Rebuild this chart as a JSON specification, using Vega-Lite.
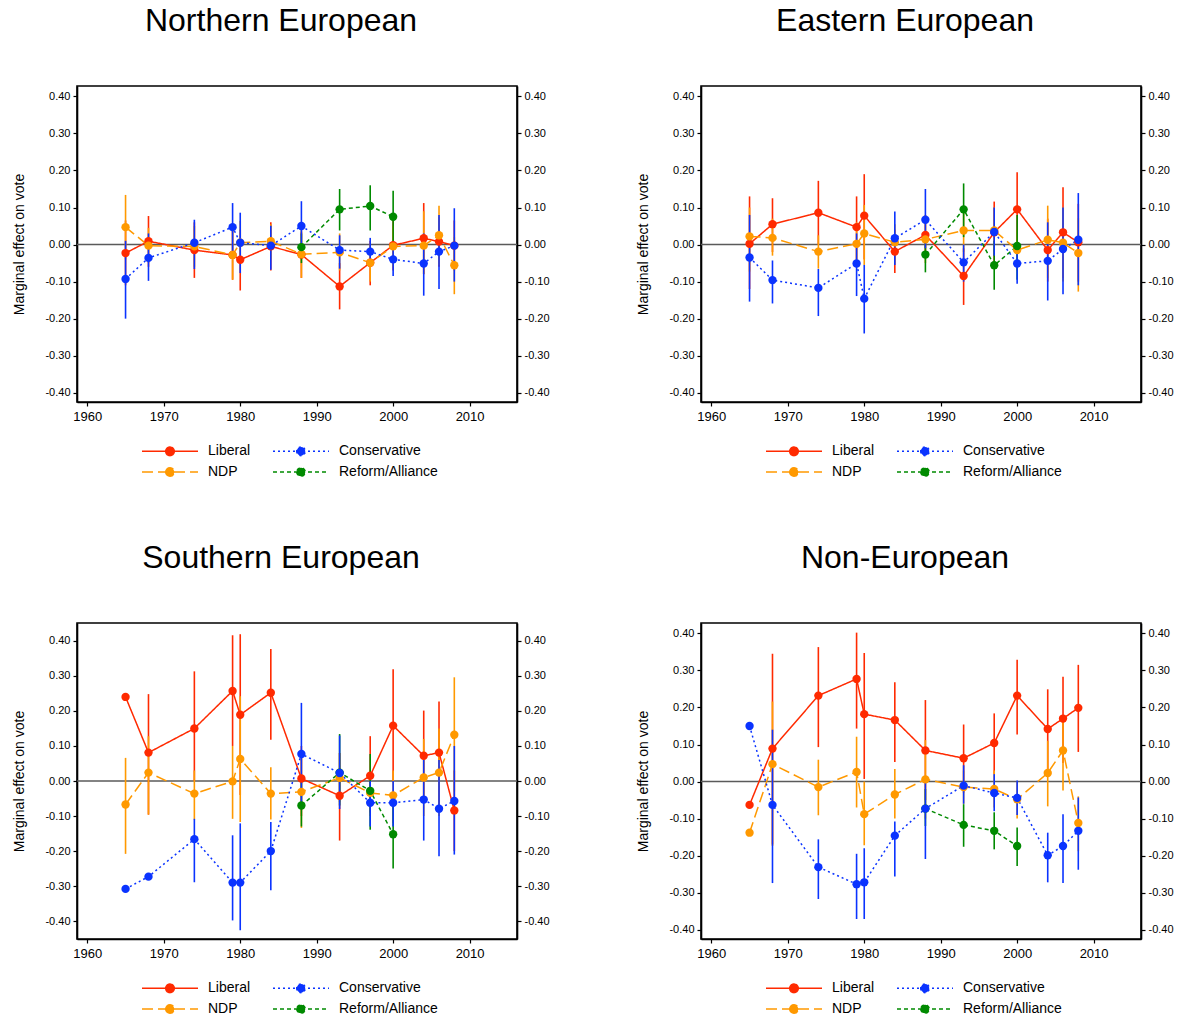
{
  "$schema": "https://vega.github.io/schema/vega-lite/v6.json",
  "padding": {"left": 12, "top": 4, "right": 2, "bottom": 2},
  "background": "white",
  "config": {
    "font": "Liberation Sans",
    "view": {"stroke": "#000000", "strokeWidth": 1.6},
    "axis": {"grid": false, "domainColor": "#000000", "tickColor": "#000000", "labelColor": "#000000", "titleColor": "#000000", "labelFont": "Liberation Sans", "titleFont": "Liberation Sans", "titleFontWeight": "normal", "tickSize": 4, "tickWidth": 1.2, "domainWidth": 1.6},
    "legend": {"labelFont": "Liberation Sans", "labelColor": "#000000", "title": null, "orient": "none", "direction": "horizontal", "legendX": 82, "legendY": 354, "columns": 2, "symbolType": "M-2.8,0H2.8M-0.43,0A0.43,0.43,0,1,0,0.43,0A0.43,0.43,0,1,0,-0.43,0Z", "symbolSize": 400, "symbolStrokeWidth": 1.5, "labelFontSize": 14, "columnPadding": 19, "rowPadding": 2, "labelOffset": 27},
    "title": {"fontSize": 32, "fontWeight": "normal", "font": "Liberation Sans", "anchor": "middle", "frame": "bounds", "offset": 48, "color": "#000000"}
  },
  "datasets": {
    "d": [
      {"region":"N","party":"Liberal","year":1965,"effect":-0.023,"lo":-0.11,"hi":0.065},
      {"region":"N","party":"Liberal","year":1968,"effect":0.009,"lo":-0.06,"hi":0.077},
      {"region":"N","party":"Liberal","year":1974,"effect":-0.015,"lo":-0.09,"hi":0.06},
      {"region":"N","party":"Liberal","year":1979,"effect":-0.028,"lo":-0.095,"hi":0.04},
      {"region":"N","party":"Liberal","year":1980,"effect":-0.041,"lo":-0.124,"hi":0.04},
      {"region":"N","party":"Liberal","year":1984,"effect":-0.005,"lo":-0.07,"hi":0.06},
      {"region":"N","party":"Liberal","year":1988,"effect":-0.027,"lo":-0.09,"hi":0.035},
      {"region":"N","party":"Liberal","year":1993,"effect":-0.113,"lo":-0.175,"hi":-0.05},
      {"region":"N","party":"Liberal","year":1997,"effect":-0.049,"lo":-0.11,"hi":0.01},
      {"region":"N","party":"Liberal","year":2000,"effect":-0.002,"lo":-0.07,"hi":0.065},
      {"region":"N","party":"Liberal","year":2004,"effect":0.017,"lo":-0.08,"hi":0.112},
      {"region":"N","party":"Liberal","year":2006,"effect":0.008,"lo":-0.06,"hi":0.075},
      {"region":"N","party":"Liberal","year":2008,"effect":-0.003,"lo":-0.07,"hi":0.065},
      {"region":"N","party":"NDP","year":1965,"effect":0.047,"lo":-0.04,"hi":0.134},
      {"region":"N","party":"NDP","year":1968,"effect":-0.003,"lo":-0.05,"hi":0.045},
      {"region":"N","party":"NDP","year":1974,"effect":-0.005,"lo":-0.06,"hi":0.05},
      {"region":"N","party":"NDP","year":1979,"effect":-0.028,"lo":-0.095,"hi":0.04},
      {"region":"N","party":"NDP","year":1980,"effect":0.005,"lo":-0.055,"hi":0.064},
      {"region":"N","party":"NDP","year":1984,"effect":0.009,"lo":-0.04,"hi":0.055},
      {"region":"N","party":"NDP","year":1988,"effect":-0.026,"lo":-0.09,"hi":0.04},
      {"region":"N","party":"NDP","year":1993,"effect":-0.021,"lo":-0.07,"hi":0.03},
      {"region":"N","party":"NDP","year":1997,"effect":-0.049,"lo":-0.1,"hi":0.0},
      {"region":"N","party":"NDP","year":2000,"effect":-0.005,"lo":-0.06,"hi":0.05},
      {"region":"N","party":"NDP","year":2004,"effect":-0.003,"lo":-0.08,"hi":0.09},
      {"region":"N","party":"NDP","year":2006,"effect":0.025,"lo":-0.055,"hi":0.105},
      {"region":"N","party":"NDP","year":2008,"effect":-0.056,"lo":-0.134,"hi":0.02},
      {"region":"N","party":"Reform/Alliance","year":1988,"effect":-0.007,"lo":-0.05,"hi":0.03},
      {"region":"N","party":"Reform/Alliance","year":1993,"effect":0.095,"lo":0.038,"hi":0.15},
      {"region":"N","party":"Reform/Alliance","year":1997,"effect":0.104,"lo":0.038,"hi":0.16},
      {"region":"N","party":"Reform/Alliance","year":2000,"effect":0.075,"lo":0.0,"hi":0.145},
      {"region":"N","party":"Conservative","year":1965,"effect":-0.093,"lo":-0.2,"hi":0.01},
      {"region":"N","party":"Conservative","year":1968,"effect":-0.036,"lo":-0.098,"hi":0.03},
      {"region":"N","party":"Conservative","year":1974,"effect":0.005,"lo":-0.066,"hi":0.067},
      {"region":"N","party":"Conservative","year":1979,"effect":0.047,"lo":-0.02,"hi":0.112},
      {"region":"N","party":"Conservative","year":1980,"effect":0.005,"lo":-0.077,"hi":0.086},
      {"region":"N","party":"Conservative","year":1984,"effect":-0.003,"lo":-0.068,"hi":0.051},
      {"region":"N","party":"Conservative","year":1988,"effect":0.05,"lo":-0.02,"hi":0.117},
      {"region":"N","party":"Conservative","year":1993,"effect":-0.015,"lo":-0.065,"hi":0.025},
      {"region":"N","party":"Conservative","year":1997,"effect":-0.019,"lo":-0.06,"hi":0.018},
      {"region":"N","party":"Conservative","year":2000,"effect":-0.04,"lo":-0.085,"hi":0.0},
      {"region":"N","party":"Conservative","year":2004,"effect":-0.051,"lo":-0.138,"hi":0.03},
      {"region":"N","party":"Conservative","year":2006,"effect":-0.019,"lo":-0.12,"hi":0.08},
      {"region":"N","party":"Conservative","year":2008,"effect":-0.003,"lo":-0.1,"hi":0.098},

      {"region":"E","party":"Liberal","year":1965,"effect":0.002,"lo":-0.12,"hi":0.13},
      {"region":"E","party":"Liberal","year":1968,"effect":0.055,"lo":-0.02,"hi":0.125},
      {"region":"E","party":"Liberal","year":1974,"effect":0.086,"lo":0.0,"hi":0.172},
      {"region":"E","party":"Liberal","year":1979,"effect":0.047,"lo":-0.04,"hi":0.13},
      {"region":"E","party":"Liberal","year":1980,"effect":0.078,"lo":-0.04,"hi":0.19},
      {"region":"E","party":"Liberal","year":1984,"effect":-0.019,"lo":-0.077,"hi":0.04},
      {"region":"E","party":"Liberal","year":1988,"effect":0.026,"lo":-0.03,"hi":0.08},
      {"region":"E","party":"Liberal","year":1993,"effect":-0.085,"lo":-0.163,"hi":-0.01},
      {"region":"E","party":"Liberal","year":1997,"effect":0.033,"lo":-0.05,"hi":0.116},
      {"region":"E","party":"Liberal","year":2000,"effect":0.095,"lo":0.0,"hi":0.195},
      {"region":"E","party":"Liberal","year":2004,"effect":-0.015,"lo":-0.1,"hi":0.07},
      {"region":"E","party":"Liberal","year":2006,"effect":0.033,"lo":-0.09,"hi":0.155},
      {"region":"E","party":"Liberal","year":2008,"effect":0.006,"lo":-0.1,"hi":0.11},
      {"region":"E","party":"NDP","year":1965,"effect":0.022,"lo":-0.073,"hi":0.1},
      {"region":"E","party":"NDP","year":1968,"effect":0.018,"lo":-0.03,"hi":0.07},
      {"region":"E","party":"NDP","year":1974,"effect":-0.019,"lo":-0.065,"hi":0.025},
      {"region":"E","party":"NDP","year":1979,"effect":0.002,"lo":-0.06,"hi":0.06},
      {"region":"E","party":"NDP","year":1980,"effect":0.03,"lo":-0.055,"hi":0.107},
      {"region":"E","party":"NDP","year":1984,"effect":0.006,"lo":-0.05,"hi":0.055},
      {"region":"E","party":"NDP","year":1988,"effect":0.014,"lo":-0.05,"hi":0.08},
      {"region":"E","party":"NDP","year":1993,"effect":0.038,"lo":-0.02,"hi":0.1},
      {"region":"E","party":"NDP","year":1997,"effect":0.038,"lo":-0.02,"hi":0.1},
      {"region":"E","party":"NDP","year":2000,"effect":-0.015,"lo":-0.07,"hi":0.04},
      {"region":"E","party":"NDP","year":2004,"effect":0.013,"lo":-0.09,"hi":0.105},
      {"region":"E","party":"NDP","year":2006,"effect":0.005,"lo":-0.1,"hi":0.1},
      {"region":"E","party":"NDP","year":2008,"effect":-0.023,"lo":-0.127,"hi":0.071},
      {"region":"E","party":"Reform/Alliance","year":1988,"effect":-0.027,"lo":-0.075,"hi":0.02},
      {"region":"E","party":"Reform/Alliance","year":1993,"effect":0.095,"lo":0.02,"hi":0.165},
      {"region":"E","party":"Reform/Alliance","year":1997,"effect":-0.056,"lo":-0.122,"hi":0.01},
      {"region":"E","party":"Reform/Alliance","year":2000,"effect":-0.004,"lo":-0.095,"hi":0.08},
      {"region":"E","party":"Conservative","year":1965,"effect":-0.035,"lo":-0.154,"hi":0.08},
      {"region":"E","party":"Conservative","year":1968,"effect":-0.096,"lo":-0.159,"hi":-0.043},
      {"region":"E","party":"Conservative","year":1974,"effect":-0.117,"lo":-0.193,"hi":-0.066},
      {"region":"E","party":"Conservative","year":1979,"effect":-0.051,"lo":-0.139,"hi":0.03},
      {"region":"E","party":"Conservative","year":1980,"effect":-0.146,"lo":-0.24,"hi":-0.055},
      {"region":"E","party":"Conservative","year":1984,"effect":0.017,"lo":-0.055,"hi":0.089},
      {"region":"E","party":"Conservative","year":1988,"effect":0.067,"lo":-0.01,"hi":0.15},
      {"region":"E","party":"Conservative","year":1993,"effect":-0.048,"lo":-0.1,"hi":0.0},
      {"region":"E","party":"Conservative","year":1997,"effect":0.034,"lo":-0.03,"hi":0.1},
      {"region":"E","party":"Conservative","year":2000,"effect":-0.051,"lo":-0.106,"hi":0.0},
      {"region":"E","party":"Conservative","year":2004,"effect":-0.044,"lo":-0.151,"hi":0.06},
      {"region":"E","party":"Conservative","year":2006,"effect":-0.012,"lo":-0.134,"hi":0.1},
      {"region":"E","party":"Conservative","year":2008,"effect":0.013,"lo":-0.11,"hi":0.139},

      {"region":"S","party":"Liberal","year":1965,"effect":0.24,"lo":null,"hi":null},
      {"region":"S","party":"Liberal","year":1968,"effect":0.081,"lo":-0.096,"hi":0.248},
      {"region":"S","party":"Liberal","year":1974,"effect":0.15,"lo":0.0,"hi":0.313},
      {"region":"S","party":"Liberal","year":1979,"effect":0.257,"lo":0.1,"hi":0.416},
      {"region":"S","party":"Liberal","year":1980,"effect":0.189,"lo":-0.04,"hi":0.419},
      {"region":"S","party":"Liberal","year":1984,"effect":0.252,"lo":0.118,"hi":0.377},
      {"region":"S","party":"Liberal","year":1988,"effect":0.007,"lo":-0.1,"hi":0.1},
      {"region":"S","party":"Liberal","year":1993,"effect":-0.042,"lo":-0.17,"hi":0.08},
      {"region":"S","party":"Liberal","year":1997,"effect":0.015,"lo":-0.09,"hi":0.128},
      {"region":"S","party":"Liberal","year":2000,"effect":0.158,"lo":0.0,"hi":0.319},
      {"region":"S","party":"Liberal","year":2004,"effect":0.072,"lo":-0.06,"hi":0.201},
      {"region":"S","party":"Liberal","year":2006,"effect":0.081,"lo":-0.07,"hi":0.227},
      {"region":"S","party":"Liberal","year":2008,"effect":-0.084,"lo":-0.2,"hi":0.03},
      {"region":"S","party":"NDP","year":1965,"effect":-0.067,"lo":-0.208,"hi":0.066},
      {"region":"S","party":"NDP","year":1968,"effect":0.024,"lo":-0.096,"hi":0.128},
      {"region":"S","party":"NDP","year":1974,"effect":-0.036,"lo":-0.11,"hi":0.03},
      {"region":"S","party":"NDP","year":1979,"effect":-0.001,"lo":-0.108,"hi":0.1},
      {"region":"S","party":"NDP","year":1980,"effect":0.063,"lo":-0.117,"hi":0.242},
      {"region":"S","party":"NDP","year":1984,"effect":-0.036,"lo":-0.11,"hi":0.039},
      {"region":"S","party":"NDP","year":1988,"effect":-0.031,"lo":-0.134,"hi":0.07},
      {"region":"S","party":"NDP","year":1993,"effect":0.009,"lo":-0.06,"hi":0.08},
      {"region":"S","party":"NDP","year":1997,"effect":-0.034,"lo":-0.1,"hi":0.03},
      {"region":"S","party":"NDP","year":2000,"effect":-0.041,"lo":-0.12,"hi":0.03},
      {"region":"S","party":"NDP","year":2004,"effect":0.01,"lo":-0.1,"hi":0.12},
      {"region":"S","party":"NDP","year":2006,"effect":0.024,"lo":-0.1,"hi":0.15},
      {"region":"S","party":"NDP","year":2008,"effect":0.132,"lo":-0.03,"hi":0.296},
      {"region":"S","party":"Reform/Alliance","year":1988,"effect":-0.07,"lo":-0.13,"hi":0.0},
      {"region":"S","party":"Reform/Alliance","year":1993,"effect":0.024,"lo":-0.07,"hi":0.134},
      {"region":"S","party":"Reform/Alliance","year":1997,"effect":-0.028,"lo":-0.139,"hi":0.077},
      {"region":"S","party":"Reform/Alliance","year":2000,"effect":-0.152,"lo":-0.25,"hi":-0.05},
      {"region":"S","party":"Conservative","year":1965,"effect":-0.308,"lo":null,"hi":null},
      {"region":"S","party":"Conservative","year":1968,"effect":-0.273,"lo":null,"hi":null},
      {"region":"S","party":"Conservative","year":1974,"effect":-0.166,"lo":-0.289,"hi":-0.108},
      {"region":"S","party":"Conservative","year":1979,"effect":-0.29,"lo":-0.398,"hi":-0.155},
      {"region":"S","party":"Conservative","year":1980,"effect":-0.29,"lo":-0.426,"hi":-0.121},
      {"region":"S","party":"Conservative","year":1984,"effect":-0.2,"lo":-0.312,"hi":-0.117},
      {"region":"S","party":"Conservative","year":1988,"effect":0.077,"lo":-0.06,"hi":0.223},
      {"region":"S","party":"Conservative","year":1993,"effect":0.023,"lo":-0.08,"hi":0.13},
      {"region":"S","party":"Conservative","year":1997,"effect":-0.062,"lo":-0.13,"hi":0.0},
      {"region":"S","party":"Conservative","year":2000,"effect":-0.062,"lo":-0.13,"hi":0.0},
      {"region":"S","party":"Conservative","year":2004,"effect":-0.053,"lo":-0.17,"hi":0.06},
      {"region":"S","party":"Conservative","year":2006,"effect":-0.079,"lo":-0.215,"hi":0.06},
      {"region":"S","party":"Conservative","year":2008,"effect":-0.057,"lo":-0.21,"hi":0.1},

      {"region":"X","party":"Liberal","year":1965,"effect":-0.063,"lo":null,"hi":null},
      {"region":"X","party":"Liberal","year":1968,"effect":0.089,"lo":-0.17,"hi":0.345},
      {"region":"X","party":"Liberal","year":1974,"effect":0.232,"lo":0.093,"hi":0.363},
      {"region":"X","party":"Liberal","year":1979,"effect":0.277,"lo":0.143,"hi":0.402},
      {"region":"X","party":"Liberal","year":1980,"effect":0.182,"lo":0.007,"hi":0.347},
      {"region":"X","party":"Liberal","year":1984,"effect":0.166,"lo":0.053,"hi":0.268},
      {"region":"X","party":"Liberal","year":1988,"effect":0.084,"lo":-0.05,"hi":0.22},
      {"region":"X","party":"Liberal","year":1993,"effect":0.063,"lo":-0.03,"hi":0.154},
      {"region":"X","party":"Liberal","year":1997,"effect":0.104,"lo":0.02,"hi":0.184},
      {"region":"X","party":"Liberal","year":2000,"effect":0.232,"lo":0.127,"hi":0.329},
      {"region":"X","party":"Liberal","year":2004,"effect":0.142,"lo":0.03,"hi":0.249},
      {"region":"X","party":"Liberal","year":2006,"effect":0.17,"lo":0.05,"hi":0.283},
      {"region":"X","party":"Liberal","year":2008,"effect":0.199,"lo":0.08,"hi":0.315},
      {"region":"X","party":"NDP","year":1965,"effect":-0.138,"lo":null,"hi":null},
      {"region":"X","party":"NDP","year":1968,"effect":0.047,"lo":-0.174,"hi":0.216},
      {"region":"X","party":"NDP","year":1974,"effect":-0.015,"lo":-0.091,"hi":0.059},
      {"region":"X","party":"NDP","year":1979,"effect":0.026,"lo":-0.07,"hi":0.121},
      {"region":"X","party":"NDP","year":1980,"effect":-0.088,"lo":-0.172,"hi":0.0},
      {"region":"X","party":"NDP","year":1984,"effect":-0.035,"lo":-0.1,"hi":0.034},
      {"region":"X","party":"NDP","year":1988,"effect":0.006,"lo":-0.1,"hi":0.112},
      {"region":"X","party":"NDP","year":1993,"effect":-0.015,"lo":-0.06,"hi":0.03},
      {"region":"X","party":"NDP","year":1997,"effect":-0.02,"lo":-0.07,"hi":0.03},
      {"region":"X","party":"NDP","year":2000,"effect":-0.048,"lo":-0.1,"hi":0.0},
      {"region":"X","party":"NDP","year":2004,"effect":0.023,"lo":-0.067,"hi":0.11},
      {"region":"X","party":"NDP","year":2006,"effect":0.084,"lo":-0.024,"hi":0.175},
      {"region":"X","party":"NDP","year":2008,"effect":-0.112,"lo":-0.188,"hi":-0.04},
      {"region":"X","party":"Reform/Alliance","year":1988,"effect":-0.073,"lo":-0.12,"hi":-0.02},
      {"region":"X","party":"Reform/Alliance","year":1993,"effect":-0.117,"lo":-0.176,"hi":-0.061},
      {"region":"X","party":"Reform/Alliance","year":1997,"effect":-0.133,"lo":-0.183,"hi":-0.083},
      {"region":"X","party":"Reform/Alliance","year":2000,"effect":-0.174,"lo":-0.228,"hi":-0.124},
      {"region":"X","party":"Conservative","year":1965,"effect":0.15,"lo":null,"hi":null},
      {"region":"X","party":"Conservative","year":1968,"effect":-0.063,"lo":-0.274,"hi":0.14},
      {"region":"X","party":"Conservative","year":1974,"effect":-0.231,"lo":-0.317,"hi":-0.156},
      {"region":"X","party":"Conservative","year":1979,"effect":-0.277,"lo":-0.371,"hi":-0.195},
      {"region":"X","party":"Conservative","year":1980,"effect":-0.272,"lo":-0.371,"hi":-0.18},
      {"region":"X","party":"Conservative","year":1984,"effect":-0.146,"lo":-0.256,"hi":-0.108},
      {"region":"X","party":"Conservative","year":1988,"effect":-0.073,"lo":-0.209,"hi":0.0},
      {"region":"X","party":"Conservative","year":1993,"effect":-0.011,"lo":-0.06,"hi":0.044},
      {"region":"X","party":"Conservative","year":1997,"effect":-0.031,"lo":-0.08,"hi":0.02},
      {"region":"X","party":"Conservative","year":2000,"effect":-0.044,"lo":-0.09,"hi":0.003},
      {"region":"X","party":"Conservative","year":2004,"effect":-0.199,"lo":-0.272,"hi":-0.138},
      {"region":"X","party":"Conservative","year":2006,"effect":-0.174,"lo":-0.274,"hi":-0.088},
      {"region":"X","party":"Conservative","year":2008,"effect":-0.133,"lo":-0.238,"hi":-0.043}
    ]
  },
  "columns": 2,
  "spacing": {"column": 86, "row": 60},
  "resolve": {
    "scale": {"x": "independent", "y": "independent", "color": "independent", "strokeDash": "independent"},
    "legend": {"color": "independent", "strokeDash": "independent"}
  },
  "concat": [
    {
      "title": "Northern European",
      "width": 440, "height": 316,
      "data": {"name": "d"},
      "transform": [{"filter": {"field": "region", "equal": "N"}}],
      "resolve": {"axis": {"y": "independent"}},
      "layer": [
        {"data": {"values": [{"zero": 0}]}, "mark": {"type": "rule", "color": "#5a5a5a", "strokeWidth": 1.5}, "encoding": {"y": {"field": "zero", "type": "quantitative", "scale": {"domain": [-0.425, 0.428], "nice": false, "zero": false}, "axis": null}}},
        {"mark": {"type": "rule", "strokeWidth": 1.6}, "transform": [{"filter": "isValid(datum.lo)"}],
         "encoding": {
           "x": {"field": "year", "type": "quantitative", "scale": {"domain": [1958.65, 2016.2], "nice": false, "zero": false}, "axis": {"title": null, "values": [1960, 1970, 1980, 1990, 2000, 2010], "format": "d", "labelFontSize": 13, "labelPadding": 4}},
           "y": {"field": "lo", "type": "quantitative", "axis": {"orient": "right", "title": null, "values": [-0.4, -0.3, -0.2, -0.1, 0, 0.1, 0.2, 0.3, 0.4], "format": ".2f", "labelExpr": "replace(datum.label, '−', '-')", "labelFontSize": 11, "labelPadding": 3}},
           "y2": {"field": "hi"},
           "color": {"field": "party", "type": "nominal", "scale": {"domain": ["Liberal", "Conservative", "NDP", "Reform/Alliance"], "range": ["#FF2A00", "#0A33FF", "#FF9900", "#008A00"]}}
         }},
        {"mark": {"type": "line", "strokeWidth": 1.5},
         "encoding": {
           "x": {"field": "year", "type": "quantitative"},
           "y": {"field": "effect", "type": "quantitative", "axis": {"title": "Marginal effect on vote", "titleFontSize": 14, "titlePadding": 18, "values": [-0.4, -0.3, -0.2, -0.1, 0, 0.1, 0.2, 0.3, 0.4], "format": ".2f", "labelExpr": "replace(datum.label, '−', '-')", "labelFontSize": 11, "labelPadding": 3}},
           "color": {"field": "party", "type": "nominal"},
           "strokeDash": {"field": "party", "type": "nominal", "scale": {"domain": ["Liberal", "Conservative", "NDP", "Reform/Alliance"], "range": [[1, 0], [2, 3], [11, 5], [4, 3]]}}
         }},
        {"mark": {"type": "point", "filled": true, "size": 70, "opacity": 1},
         "encoding": {
           "x": {"field": "year", "type": "quantitative"},
           "y": {"field": "effect", "type": "quantitative", "axis": null},
           "color": {"field": "party", "type": "nominal"}
         }}
      ]
    },
    {
      "title": "Eastern European",
      "width": 440, "height": 316,
      "data": {"name": "d"},
      "transform": [{"filter": {"field": "region", "equal": "E"}}],
      "resolve": {"axis": {"y": "independent"}},
      "layer": [
        {"data": {"values": [{"zero": 0}]}, "mark": {"type": "rule", "color": "#5a5a5a", "strokeWidth": 1.5}, "encoding": {"y": {"field": "zero", "type": "quantitative", "scale": {"domain": [-0.425, 0.428], "nice": false, "zero": false}, "axis": null}}},
        {"mark": {"type": "rule", "strokeWidth": 1.6}, "transform": [{"filter": "isValid(datum.lo)"}],
         "encoding": {
           "x": {"field": "year", "type": "quantitative", "scale": {"domain": [1958.65, 2016.2], "nice": false, "zero": false}, "axis": {"title": null, "values": [1960, 1970, 1980, 1990, 2000, 2010], "format": "d", "labelFontSize": 13, "labelPadding": 4}},
           "y": {"field": "lo", "type": "quantitative", "axis": {"orient": "right", "title": null, "values": [-0.4, -0.3, -0.2, -0.1, 0, 0.1, 0.2, 0.3, 0.4], "format": ".2f", "labelExpr": "replace(datum.label, '−', '-')", "labelFontSize": 11, "labelPadding": 3}},
           "y2": {"field": "hi"},
           "color": {"field": "party", "type": "nominal", "scale": {"domain": ["Liberal", "Conservative", "NDP", "Reform/Alliance"], "range": ["#FF2A00", "#0A33FF", "#FF9900", "#008A00"]}}
         }},
        {"mark": {"type": "line", "strokeWidth": 1.5},
         "encoding": {
           "x": {"field": "year", "type": "quantitative"},
           "y": {"field": "effect", "type": "quantitative", "axis": {"title": "Marginal effect on vote", "titleFontSize": 14, "titlePadding": 18, "values": [-0.4, -0.3, -0.2, -0.1, 0, 0.1, 0.2, 0.3, 0.4], "format": ".2f", "labelExpr": "replace(datum.label, '−', '-')", "labelFontSize": 11, "labelPadding": 3}},
           "color": {"field": "party", "type": "nominal"},
           "strokeDash": {"field": "party", "type": "nominal", "scale": {"domain": ["Liberal", "Conservative", "NDP", "Reform/Alliance"], "range": [[1, 0], [2, 3], [11, 5], [4, 3]]}}
         }},
        {"mark": {"type": "point", "filled": true, "size": 70, "opacity": 1},
         "encoding": {
           "x": {"field": "year", "type": "quantitative"},
           "y": {"field": "effect", "type": "quantitative", "axis": null},
           "color": {"field": "party", "type": "nominal"}
         }}
      ]
    },
    {
      "title": "Southern European",
      "width": 440, "height": 316,
      "data": {"name": "d"},
      "transform": [{"filter": {"field": "region", "equal": "S"}}],
      "resolve": {"axis": {"y": "independent"}},
      "layer": [
        {"data": {"values": [{"zero": 0}]}, "mark": {"type": "rule", "color": "#5a5a5a", "strokeWidth": 1.5}, "encoding": {"y": {"field": "zero", "type": "quantitative", "scale": {"domain": [-0.451, 0.451], "nice": false, "zero": false}, "axis": null}}},
        {"mark": {"type": "rule", "strokeWidth": 1.6}, "transform": [{"filter": "isValid(datum.lo)"}],
         "encoding": {
           "x": {"field": "year", "type": "quantitative", "scale": {"domain": [1958.65, 2016.2], "nice": false, "zero": false}, "axis": {"title": null, "values": [1960, 1970, 1980, 1990, 2000, 2010], "format": "d", "labelFontSize": 13, "labelPadding": 4}},
           "y": {"field": "lo", "type": "quantitative", "axis": {"orient": "right", "title": null, "values": [-0.4, -0.3, -0.2, -0.1, 0, 0.1, 0.2, 0.3, 0.4], "format": ".2f", "labelExpr": "replace(datum.label, '−', '-')", "labelFontSize": 11, "labelPadding": 3}},
           "y2": {"field": "hi"},
           "color": {"field": "party", "type": "nominal", "scale": {"domain": ["Liberal", "Conservative", "NDP", "Reform/Alliance"], "range": ["#FF2A00", "#0A33FF", "#FF9900", "#008A00"]}}
         }},
        {"mark": {"type": "line", "strokeWidth": 1.5},
         "encoding": {
           "x": {"field": "year", "type": "quantitative"},
           "y": {"field": "effect", "type": "quantitative", "axis": {"title": "Marginal effect on vote", "titleFontSize": 14, "titlePadding": 18, "values": [-0.4, -0.3, -0.2, -0.1, 0, 0.1, 0.2, 0.3, 0.4], "format": ".2f", "labelExpr": "replace(datum.label, '−', '-')", "labelFontSize": 11, "labelPadding": 3}},
           "color": {"field": "party", "type": "nominal"},
           "strokeDash": {"field": "party", "type": "nominal", "scale": {"domain": ["Liberal", "Conservative", "NDP", "Reform/Alliance"], "range": [[1, 0], [2, 3], [11, 5], [4, 3]]}}
         }},
        {"mark": {"type": "point", "filled": true, "size": 70, "opacity": 1},
         "encoding": {
           "x": {"field": "year", "type": "quantitative"},
           "y": {"field": "effect", "type": "quantitative", "axis": null},
           "color": {"field": "party", "type": "nominal"}
         }}
      ]
    },
    {
      "title": "Non-European",
      "width": 440, "height": 316,
      "data": {"name": "d"},
      "transform": [{"filter": {"field": "region", "equal": "X"}}],
      "resolve": {"axis": {"y": "independent"}},
      "layer": [
        {"data": {"values": [{"zero": 0}]}, "mark": {"type": "rule", "color": "#5a5a5a", "strokeWidth": 1.5}, "encoding": {"y": {"field": "zero", "type": "quantitative", "scale": {"domain": [-0.425, 0.428], "nice": false, "zero": false}, "axis": null}}},
        {"mark": {"type": "rule", "strokeWidth": 1.6}, "transform": [{"filter": "isValid(datum.lo)"}],
         "encoding": {
           "x": {"field": "year", "type": "quantitative", "scale": {"domain": [1958.65, 2016.2], "nice": false, "zero": false}, "axis": {"title": null, "values": [1960, 1970, 1980, 1990, 2000, 2010], "format": "d", "labelFontSize": 13, "labelPadding": 4}},
           "y": {"field": "lo", "type": "quantitative", "axis": {"orient": "right", "title": null, "values": [-0.4, -0.3, -0.2, -0.1, 0, 0.1, 0.2, 0.3, 0.4], "format": ".2f", "labelExpr": "replace(datum.label, '−', '-')", "labelFontSize": 11, "labelPadding": 3}},
           "y2": {"field": "hi"},
           "color": {"field": "party", "type": "nominal", "scale": {"domain": ["Liberal", "Conservative", "NDP", "Reform/Alliance"], "range": ["#FF2A00", "#0A33FF", "#FF9900", "#008A00"]}}
         }},
        {"mark": {"type": "line", "strokeWidth": 1.5},
         "encoding": {
           "x": {"field": "year", "type": "quantitative"},
           "y": {"field": "effect", "type": "quantitative", "axis": {"title": "Marginal effect on vote", "titleFontSize": 14, "titlePadding": 18, "values": [-0.4, -0.3, -0.2, -0.1, 0, 0.1, 0.2, 0.3, 0.4], "format": ".2f", "labelExpr": "replace(datum.label, '−', '-')", "labelFontSize": 11, "labelPadding": 3}},
           "color": {"field": "party", "type": "nominal"},
           "strokeDash": {"field": "party", "type": "nominal", "scale": {"domain": ["Liberal", "Conservative", "NDP", "Reform/Alliance"], "range": [[1, 0], [2, 3], [11, 5], [4, 3]]}}
         }},
        {"mark": {"type": "point", "filled": true, "size": 70, "opacity": 1},
         "encoding": {
           "x": {"field": "year", "type": "quantitative"},
           "y": {"field": "effect", "type": "quantitative", "axis": null},
           "color": {"field": "party", "type": "nominal"}
         }}
      ]
    }
  ]
}
